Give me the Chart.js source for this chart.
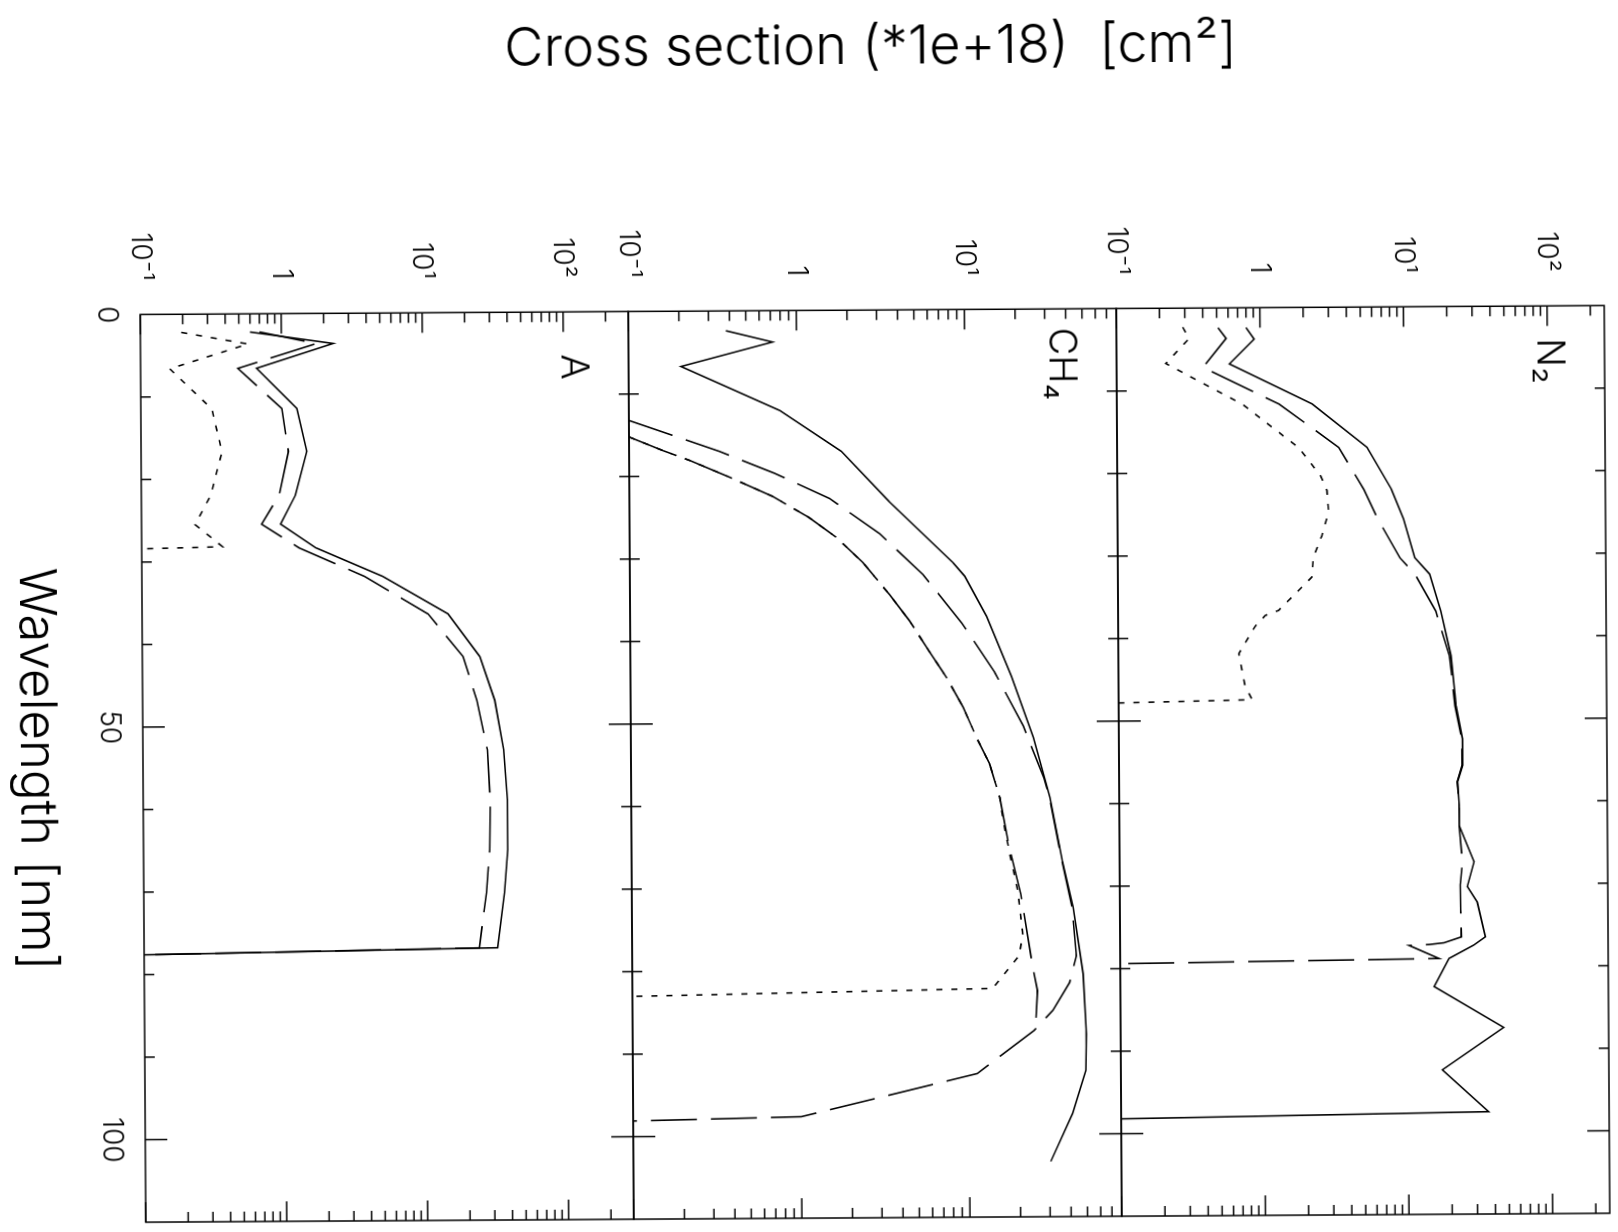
<!DOCTYPE html>
<html>
<head>
<meta charset="utf-8">
<title>Cross section</title>
<script src="https://cdn.jsdelivr.net/npm/chart.js@4.4.0/dist/chart.umd.min.js"></script>
<style>
  html, body { margin: 0; padding: 0; background: #fff; overflow: hidden; }
  /* the plot is drawn upright, then turned a quarter clockwise like the scan
     (the scan itself sits a little askew, hence 89.65 and not 90) */
  #turn { position: absolute; left: 0; top: 0; width: 1232px; height: 1618px;
          transform-origin: 0 0; transform: translate(1617.3px, -8.8px) rotate(89.65deg); }
</style>
</head>
<body>
<div id="turn"><canvas id="chart_cross" width="1232" height="1618"></canvas></div>
<script>
// axis ticks
const wavelengthTicks = [0, 50, 100]
const crossTicks = [0.1, 1, 10, 100]
const crossTickLabels = ['10⁻¹', '1', '10¹', '10²']
const panelNames = ['A', 'CH₄', 'N₂']
const panelMax = [290, 80, 250]

// A
const argonWl = [2.2, 3.65, 6.6, 11.5, 16.7, 22.0, 25.5, 28.4, 31.9, 36.5, 41.7, 47.0, 53.0, 59.1, 65.1, 70.3, 77.0, 77.6]
const argonSolid = [0.60, 2.33, 0.665, 1.28, 1.50, 1.24, 0.97, 1.72, 5.1, 14.8, 24.8, 31.5, 36.3, 38.4, 38.4, 36.3, 32.2, 0.1]
const argonDash = [0.70, 1.77, 0.49, 1.0, 1.11, 0.95, 0.71, 1.31, 3.8, 10.7, 18.9, 23.5, 27.8, 29.0, 28.6, 27.0, 23.9, 0.1]
const argonDotWl = [2.2, 3.65, 6.6, 11.5, 16.7, 22.0, 25.5, 28.2, 28.4]
const argonDot = [0.195, 0.58, 0.161, 0.319, 0.375, 0.31, 0.24, 0.375, 0.1]

// CH4
const ch4SolidWl = [2.4, 3.8, 6.7, 12.1, 17.1, 23.2, 30.7, 32.3, 37.2, 44.5, 51.9, 59.2, 66.9, 72.5, 80.6, 87.9, 92.3, 97.5, 103.3]
const ch4Solid = [0.38, 0.72, 0.205, 0.79, 1.83, 3.5, 8.4, 9.8, 13.2, 18.5, 24.8, 31.0, 36.5, 42.2, 48.1, 50.0, 49.5, 41.2, 30.4]
const ch4DashWl = [13.2, 17.0, 19.7, 22.8, 27.1, 32.1, 38.0, 44.0, 50.5, 56.8, 59.2, 66.9, 72.5, 78.4, 81.6, 85.0, 87.4, 92.6, 97.7, 98.1]
const ch4Dash = [0.1, 0.343, 0.73, 1.55, 3.07, 5.55, 9.4, 14.7, 21.6, 28.5, 30.8, 36.3, 41.5, 43.9, 40.0, 31.7, 24.5, 11.2, 1.0, 0.1]
const ch4Dash2Wl = [15.2, 16.9, 18.1, 20.1, 22.5, 25.1, 27.5, 30.6, 34.5, 37.7, 41.4, 44.6, 48.2, 51.9, 55.1, 59.2, 64.8, 70.9, 79.7, 82.6, 86.2, 87.4]
const ch4Dash2 = [0.1, 0.16, 0.23, 0.39, 0.71, 1.17, 1.69, 2.44, 3.5, 4.6, 6.0, 7.6, 9.5, 11.4, 13.6, 15.6, 17.5, 20.6, 24.1, 25.7, 25.1, 24.5]
const ch4DotWl = [15.2, 16.9, 18.1, 20.1, 22.5, 25.1, 27.5, 30.6, 34.5, 37.7, 41.4, 44.6, 48.2, 51.9, 55.1, 59.2, 62.0, 66.8, 70.5, 75.7, 78.3, 82.3, 83.0]
const ch4Dot = [0.1, 0.16, 0.23, 0.39, 0.71, 1.17, 1.69, 2.44, 3.5, 4.6, 6.0, 7.6, 9.5, 11.4, 13.6, 15.6, 16.3, 18.1, 19.8, 21.1, 20.1, 13.9, 0.1]

// N2
const n2SolidWl = [2.4, 3.8, 6.8, 11.7, 17.0, 22.1, 25.7, 30.4, 32.4, 36.9, 42.3, 48.4, 52.4, 55.6, 57.6, 60.4, 62.9, 67.3, 70.3, 72.2, 76.4, 77.4, 79.0, 82.4, 87.4, 92.5, 97.6, 98.2]
const n2Solid = [0.80, 0.91, 0.61, 2.29, 5.5, 8.1, 9.8, 11.7, 14.8, 17.7, 20.7, 22.4, 24.7, 24.7, 22.7, 23.3, 23.2, 29.4, 26.3, 30.8, 35.0, 29.0, 19.5, 15.3, 46.5, 17.3, 36.2, 0.1]
const n2DashWl = [2.4, 3.7, 7.2, 11.7, 17.0, 22.1, 25.7, 30.4, 32.4, 36.9, 42.3, 48.4, 52.4, 55.6, 57.6, 60.4, 62.9, 67.3, 70.1, 73.1, 76.4, 77.1, 77.3, 77.4, 79.0, 79.4]
const n2Dash = [0.51, 0.58, 0.40, 1.35, 3.5, 5.2, 6.5, 9.2, 11.7, 16.3, 20.2, 22.0, 24.4, 24.5, 22.6, 23.2, 23.2, 24.4, 23.5, 23.6, 23.8, 18.0, 14.2, 10.3, 16.6, 0.1]
const n2DotWl = [2.3, 3.7, 6.7, 11.7, 17.0, 20.4, 22.2, 24.8, 27.7, 30.3, 32.7, 34.9, 36.7, 37.3, 38.6, 41.9, 45.8, 47.5, 47.8]
const n2Dot = [0.29, 0.32, 0.22, 0.75, 1.84, 2.6, 2.88, 2.95, 2.64, 2.3, 2.24, 1.67, 1.31, 1.06, 0.9, 0.69, 0.76, 0.85, 0.1]

const panelIds = ['yA', 'yCH4', 'yN2']
const solid = []
const longDash = [46, 14]
const dotted = [6, 9]
const fontFamily = "Inter, 'DejaVu Sans', sans-serif"

Chart.defaults.font.family = fontFamily
Chart.defaults.font.weight = 300
Chart.defaults.color = '#000'

function curve(wl, values, axis, dash){
    return {
        data: wl.map((w, i) => ({x: w, y: values[i]})),
        yAxisID: axis,
        showLine: true,
        borderColor: '#000',
        borderWidth: 1.6,
        borderDash: dash,
        pointRadius: 0,
        fill: false,
        tension: 0
    }
}

// labels never sit on the plot edges, so no extra room is kept for them
function noPadding(scale){
    scale.paddingTop = 0
    scale.paddingBottom = 0
    scale.paddingLeft = 0
    scale.paddingRight = 0
}

function panelAxis(i){
    return {
        type: 'logarithmic',
        position: 'left',
        stack: 'cross',
        stackWeight: 1,
        min: 0.1,
        max: panelMax[i],
        grid: { display: false, drawTicks: false },
        border: { display: false },
        afterBuildTicks: scale => {
            scale.ticks = crossTicks.filter(v => v <= panelMax[i]).map(v => ({value: v}))
        },
        afterFit: scale => {
            scale.width = 230.5
            noPadding(scale)
        },
        ticks: {
            padding: 34,
            autoSkip: false,
            font: { size: 28, weight: 300 },
            callback: value => crossTickLabels[crossTicks.indexOf(value)]
        }
    }
}

function line(ctx, x1, y1, x2, y2){
    ctx.beginPath()
    ctx.moveTo(x1, y1)
    ctx.lineTo(x2, y2)
    ctx.stroke()
}

// panel frames, inward ticks and the gas names
const frameTicks = {
    id: 'frameTicks',
    afterDatasetsDraw(chart){
        const ctx = chart.ctx
        const area = chart.chartArea
        const xs = chart.scales.x
        ctx.save()
        ctx.strokeStyle = '#000'
        ctx.lineWidth = 1.5
        panelIds.forEach((id, i) => {
            const ys = chart.scales[id]
            ctx.strokeRect(area.left, ys.top, area.right - area.left, ys.bottom - ys.top)

            for (let d = 0.1; d < ys.max; d *= 10) {
                for (let k = 1; k < 10; k++) {
                    const v = d * k
                    if (v > ys.max) break
                    const py = ys.getPixelForValue(v)
                    const len = k === 1 ? 20 : 10
                    line(ctx, area.left, py, area.left + len, py)
                    line(ctx, area.right, py, area.right - len, py)
                }
            }

            for (let w = 10; w < xs.max; w += 10) {
                const px = xs.getPixelForValue(w)
                const len = w % 50 === 0 ? 22 : 10
                line(ctx, px, ys.bottom, px, ys.bottom - len)
                line(ctx, px, ys.top, px, ys.top + len)
            }

            ctx.fillStyle = '#000'
            ctx.font = '300 38px ' + fontFamily
            ctx.textAlign = 'center'
            ctx.textBaseline = 'middle'
            ctx.fillText(panelNames[i], area.left + 55, ys.top + 56)
        })
        ctx.restore()
    }
}

new Chart(document.getElementById('chart_cross'), {
    type: 'scatter',
    data: {
        datasets: [
            curve(argonWl, argonSolid, 'yA', solid),
            curve(argonWl, argonDash, 'yA', longDash),
            curve(argonDotWl, argonDot, 'yA', dotted),
            curve(ch4SolidWl, ch4Solid, 'yCH4', solid),
            curve(ch4DashWl, ch4Dash, 'yCH4', longDash),
            curve(ch4Dash2Wl, ch4Dash2, 'yCH4', longDash),
            curve(ch4DotWl, ch4Dot, 'yCH4', dotted),
            curve(n2SolidWl, n2Solid, 'yN2', solid),
            curve(n2DashWl, n2Dash, 'yN2', longDash),
            curve(n2DotWl, n2Dot, 'yN2', dotted)
        ]
    },
    options: {
        responsive: false,
        animation: false,
        layout: { padding: { left: 0, right: 10, top: 15, bottom: 0 } },
        plugins: {
            legend: { display: false },
            tooltip: { enabled: false },
            title: {
                display: true,
                position: 'left',
                fullSize: false,
                text: 'Cross section (*1e+18)  [cm²]',
                color: '#000',
                font: { size: 54, weight: 300 },
                padding: { top: 19, bottom: 0 }
            }
        },
        scales: {
            x: {
                type: 'linear',
                position: 'bottom',
                min: 0,
                max: 110,
                grid: { display: false, drawTicks: false },
                border: { display: false },
                afterBuildTicks: scale => {
                    scale.ticks = wavelengthTicks.map(v => ({value: v}))
                },
                afterFit: scale => {
                    scale.height = 139
                    noPadding(scale)
                },
                ticks: { padding: 17, maxRotation: 0, minRotation: 0, autoSkip: false, font: { size: 28, weight: 300 } },
                title: {
                    display: true,
                    text: 'Wavelength [nm]',
                    font: { size: 51, weight: 300 },
                    padding: { top: 0, bottom: 2 }
                }
            },
            yA: panelAxis(0),
            yCH4: panelAxis(1),
            yN2: panelAxis(2)
        }
    },
    plugins: [frameTicks]
})
</script>
</body>
</html>
